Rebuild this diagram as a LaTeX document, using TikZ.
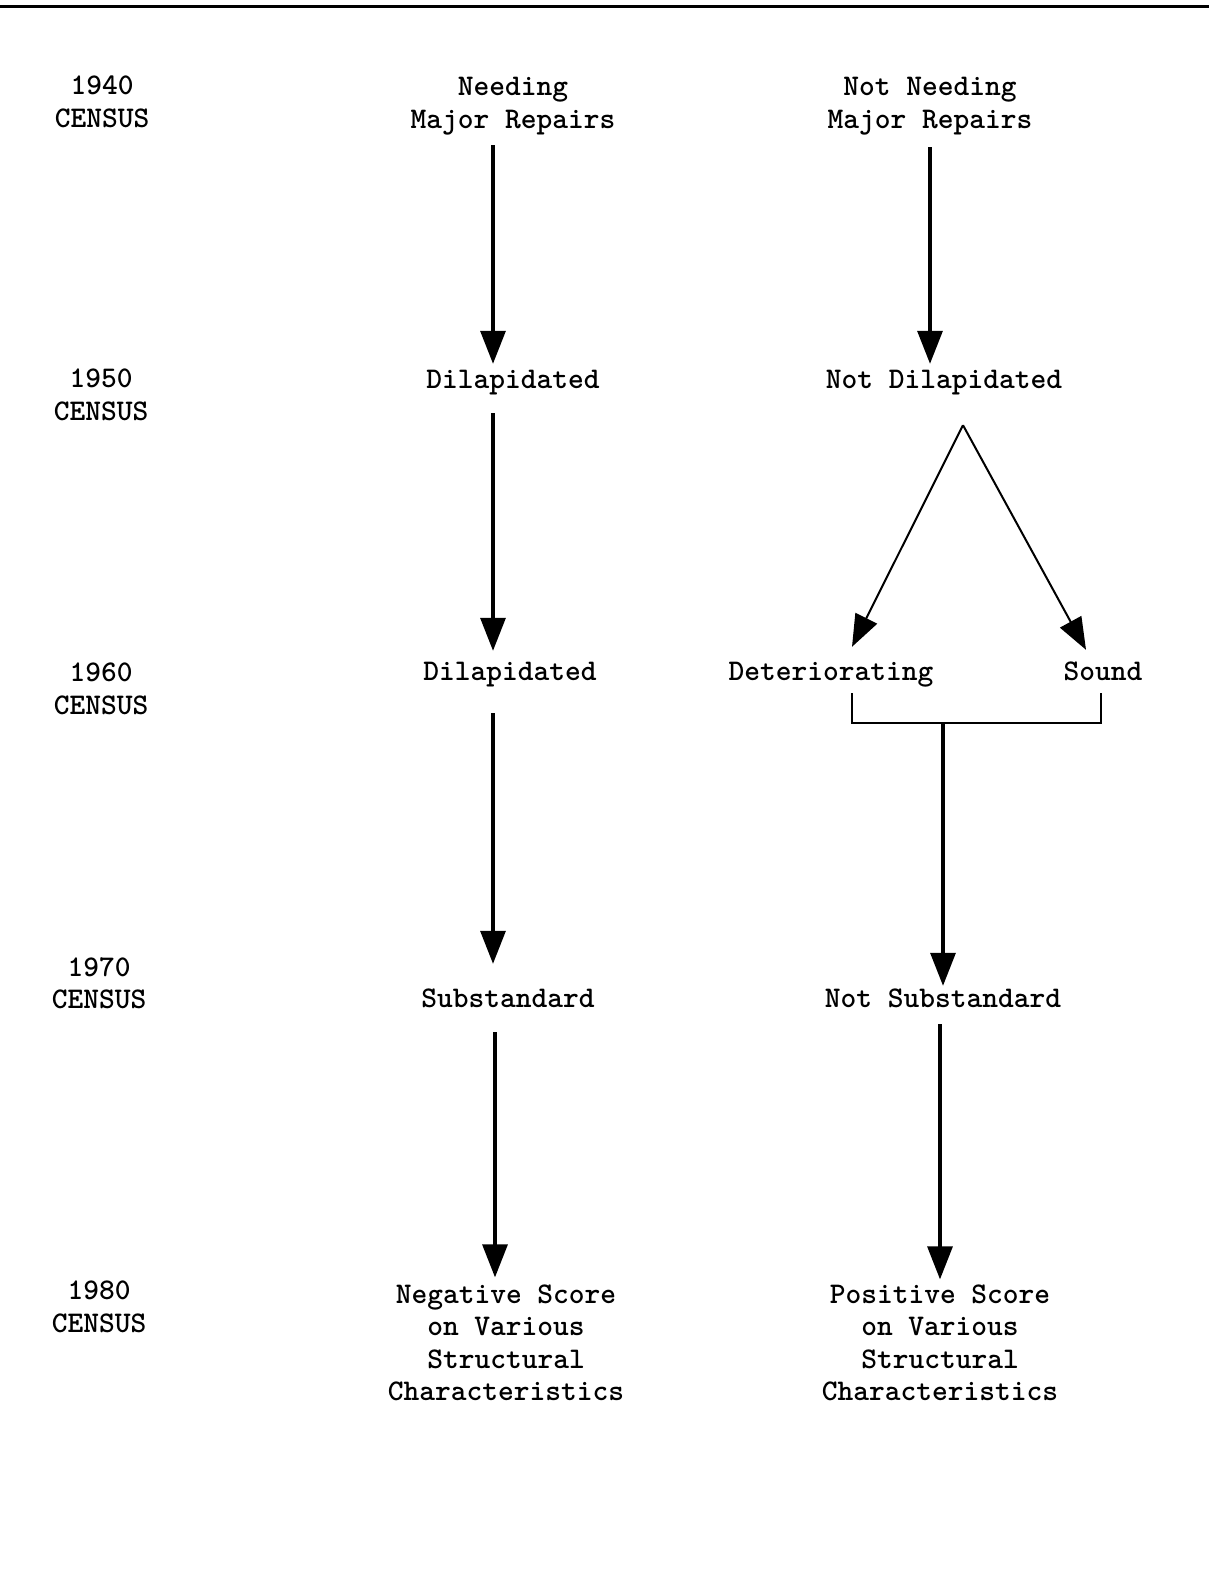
\documentclass[tikz,border=0pt]{standalone}
\usetikzlibrary{arrows.meta,calc}
\begin{document}
\begin{tikzpicture}[x=0.5pt,y=-0.5pt,
  lbl/.style={inner sep=0pt,align=center,font=\ttfamily\bfseries\fontsize{15}{16.25}\selectfont},
  one/.style={lbl,text height=9.5pt,text depth=3.3pt},
  arr/.style={line width=1.6pt,-{Triangle[width=12.5pt,length=16.5pt]}},
  thinarr/.style={line width=1pt,-{Triangle[width=12pt,length=16pt]}},
  brk/.style={line width=1pt}]
\useasboundingbox (0,0) rectangle (1209,1594);
\draw[line width=1.6pt] (0,6.5) -- (1209,6.5);
% year labels
\node[lbl] (y40) at (102,102) {1940\\CENSUS};
\node[lbl] (y50) at (101,395) {1950\\CENSUS};
\node[lbl] (y60) at (101,689) {1960\\CENSUS};
\node[lbl] (y70) at (99,983) {1970\\CENSUS};
\node[lbl] (y80) at (99,1307) {1980\\CENSUS};
% left column
\node[lbl] (a1) at (513,106) {Needing\\Major Repairs};
\node[one] (a2) at (513,382) {Dilapidated};
\node[one] (a3) at (510,674) {Dilapidated};
\node[one] (a4) at (508,1001) {Substandard};
\node[lbl] (a5) at (506,1343) {Negative Score\\on Various\\Structural\\Characteristics};
% right column
\node[lbl] (b1) at (930,106) {Not Needing\\Major Repairs};
\node[one] (b2) at (944,382) {Not Dilapidated};
\node[one] (c3) at (831,674) {Deteriorating};
\node[one] (d3) at (1103,674) {Sound};
\node[one] (b4) at (943,1001) {Not Substandard};
\node[lbl] (b5) at (940,1343) {Positive Score\\on Various\\Structural\\Characteristics};
% left arrows
\draw[arr] ($(a1.south)+(-20,10)$) -- ($(a2.north)+(-20,-5)$);
\draw[arr] ($(a2.south)+(-20,18)$) -- ($(a3.north)+(-17,-10)$);
\draw[arr] ($(a3.south)+(-17,26)$) -- ($(a4.north)+(-15,-24)$);
\draw[arr] ($(a4.south)+(-13,18)$) -- ($(a5.north)+(-11,-7)$);
% right arrows
\draw[arr] ($(b1.south)+(0,12)$) -- ($(b2.north)+(-14,-5)$);
\coordinate (apex) at ($(b2.south)+(19,30)$);
\draw[thinarr] (apex) -- ($(c3.north)+(21,-14)$);
\draw[thinarr] (apex) -- ($(d3.north)+(-17,-11)$);
\coordinate (bk) at (943,723);
\draw[brk] ($(c3.south)+(21,6)$) |- (bk) -| ($(d3.south)+(-2,6)$);
\draw[arr] (bk) -- ($(b4.north)+(0,-2)$);
\draw[arr] ($(b4.south)+(-3,10)$) -- ($(b5.north)+(0,-5)$);
\end{tikzpicture}
\end{document}
